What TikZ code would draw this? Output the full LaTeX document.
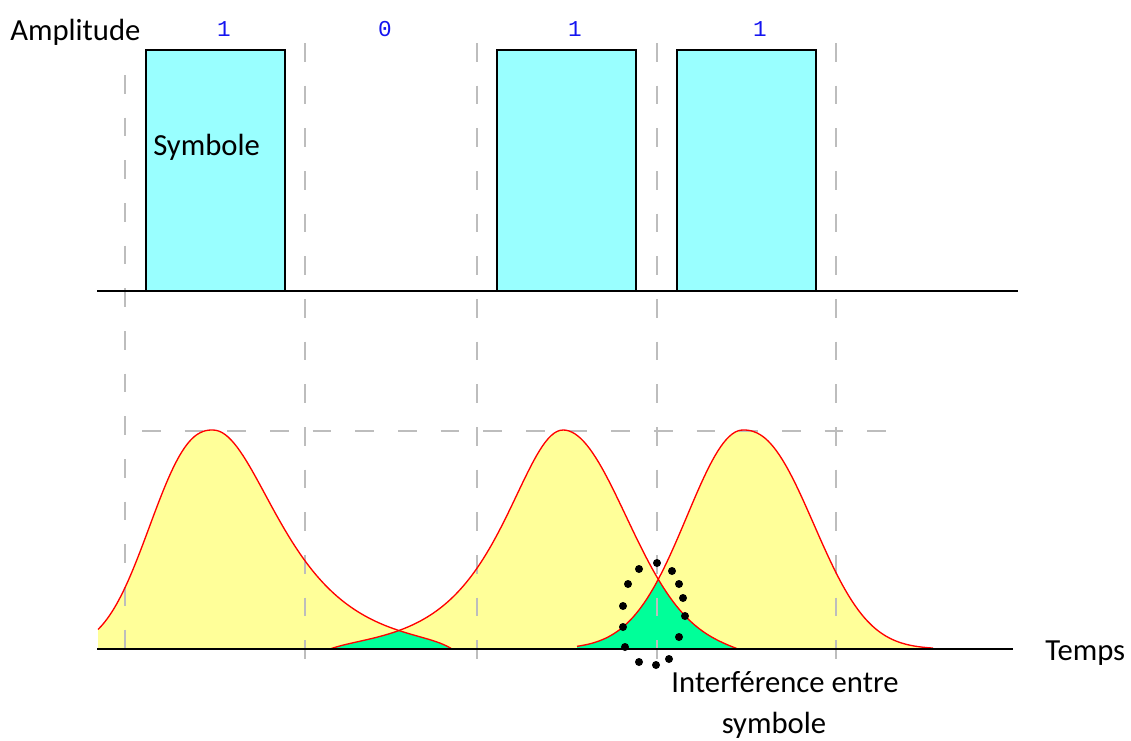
\documentclass[tikz,border=0pt]{standalone}
\usepackage{fontspec}
\setsansfont{Carlito}
\newfontfamily\bitfont{Liberation Mono}
\usetikzlibrary{positioning}
\definecolor{symcyan}{HTML}{99FFFF}
\definecolor{pulsefill}{HTML}{FFFF99}
\definecolor{isigreen}{HTML}{00FF99}
\definecolor{guide}{HTML}{BDBDBD}
\definecolor{bitblue}{HTML}{1414F0}
\tikzset{
  symbox/.style={draw=black,line width=1.5pt,fill=symcyan},
  bit/.style={font=\bitfont\fontsize{17}{20}\selectfont,text=bitblue,anchor=base,inner sep=0pt},
  lbl/.style={font=\sffamily\fontsize{23}{28}\selectfont,text=black,anchor=base west,inner sep=0pt},
  guideline/.style={draw=guide,line width=1.1pt,dash pattern=on 14pt off 18pt},
  axis/.style={draw=black,line width=2pt},
  pulse/.style={draw=red,line width=1pt},
  isidot/.style={fill=black},
}
% the three received pulses (left half, right half)
\newcommand\curveA{plot[domain=-115:-0.5,samples=50] ({213+\x},{649-219*exp(0-pow(abs(\x)/79.6,2.4))})
  -- plot[domain=0:239,samples=80] ({213+\x},{649-219/cosh(\x/59)*(1-exp((\x-239)/12))})}
\newcommand\curveB{plot[domain=-233:0,samples=80] ({563+\x},{649-219/cosh(\x/52)*(1-exp((0-233-\x)/14))})
  -- plot[domain=0:175,samples=60] ({563+\x},{649-219*exp(0-(\x/89.1)*(\x/89.1))*(1-exp((\x-175)/12))})}
\newcommand\curveC{plot[domain=-166:0,samples=60] ({743+\x},{649-219*exp(0-(\x/79.2)*(\x/79.2))})
  -- plot[domain=0.5:190,samples=70] ({743+\x},{649-219*exp(0-pow(\x/90.9,2.3))})}

\begin{document}
\begin{tikzpicture}[x=0.75pt,y=-0.75pt]
  \useasboundingbox (0,0) rectangle (1131,740);
  % emitted symbols
  \draw[symbox] (146,50) rectangle (285,291);
  \draw[symbox] (497,50) rectangle (636,291);
  \draw[symbox] (677,50) rectangle (816,291);
  \node[lbl] (amp) at (10,40) {Amplitude};
  \node[lbl] (sym) at (153,155) {Symbole};
  \node[bit] (b1) at (224,36) {1};
  \node[bit] (b2) at (385,36) {0};
  \node[bit] (b3) at (575,36) {1};
  \node[bit] (b4) at (760,36) {1};
  % received pulses
  \fill[pulsefill] \curveA -- (452,649) -- (98,649) -- cycle;
  \fill[pulsefill] \curveB -- (738,649) -- (330,649) -- cycle;
  \fill[pulsefill] \curveC -- (933,649) -- (577,649) -- cycle;
  \begin{scope}
    \clip \curveA -- (452,649) -- (98,649) -- cycle;
    \fill[isigreen] \curveB -- (738,649) -- (330,649) -- cycle;
  \end{scope}
  \begin{scope}
    \clip \curveB -- (738,649) -- (330,649) -- cycle;
    \fill[isigreen] \curveC -- (933,649) -- (577,649) -- cycle;
  \end{scope}
  % guides
  \draw[guideline] (125,75) -- (125,668);
  \foreach \gx in {305,477,657,836}
    \draw[guideline] (\gx,43) -- (\gx,668);
  \draw[guideline] (142,431) -- (905,431);
  \draw[pulse] \curveA;
  \draw[pulse] \curveB;
  \draw[pulse] \curveC;
  % axes
  \draw[axis] (97,291) -- (1018,291);
  \draw[axis] (97,649) -- (1013,649);
  \node[lbl] (temps) at (1045,660) {Temps};
  % overlap marker
  \foreach \p in {(657,563),(639,569),(628,584),(623,606),(623,627),(625,647),(639,662),(656,665),(669,659),(679,637),(685,616),(683,598),(679,584),(672,571)}
    \fill[isidot] \p circle[radius=3pt];
  \node[lbl,anchor=base] (isi) at (785,692) {Interférence entre};
  \node[lbl,anchor=base] (isi2) at (774,733) {symbole};
\end{tikzpicture}
\end{document}
